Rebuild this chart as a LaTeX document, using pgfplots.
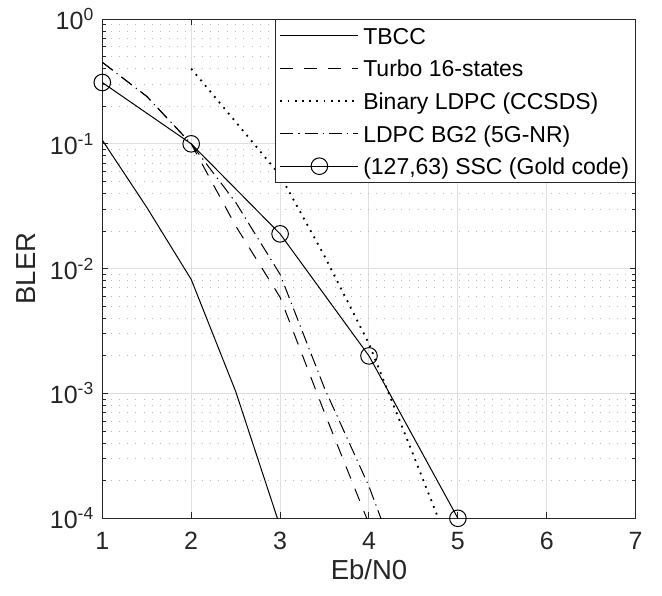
\documentclass[border=0pt]{standalone}
\usepackage{pgfplots}
\pgfplotsset{compat=1.18}
\usepackage{fontspec}
\setmainfont{Liberation Sans}
\definecolor{axgray}{RGB}{38,38,38}
\definecolor{gridmaj}{RGB}{223,223,223}
\definecolor{gridmin}{RGB}{185,185,185}
% strut that fixes the height of each legend row
\newcommand{\ls}{\rule[-5.8pt]{0pt}{28.6pt}}

\begin{document}
\begin{tikzpicture}
\begin{axis}[
    scale only axis,
    width=533.4pt, height=499.3pt,
    xmin=1, xmax=7,
    ymode=log, ymin=1e-4, ymax=1,
    xtick={1,2,3,4,5,6,7},
    xticklabels={1,2,3,4,5,6,7},
    ytick={1e-4,1e-3,1e-2,1e-1,1},
    yticklabels={10\textsuperscript{-4},10\textsuperscript{-3},10\textsuperscript{-2},10\textsuperscript{-1},10\textsuperscript{0}},
    minor ytick={2e-4,3e-4,4e-4,5e-4,6e-4,7e-4,8e-4,9e-4,
                 2e-3,3e-3,4e-3,5e-3,6e-3,7e-3,8e-3,9e-3,
                 2e-2,3e-2,4e-2,5e-2,6e-2,7e-2,8e-2,9e-2,
                 0.2,0.3,0.4,0.5,0.6,0.7,0.8,0.9},
    tick align=inside,
    major tick length=6pt, minor tick length=4pt,
    xmajorgrids, ymajorgrids, yminorgrids,
    major grid style={gridmaj, line width=1pt},
    minor grid style={gridmin, line width=1pt, dash pattern=on 1pt off 7.3pt},
    axis line style={axgray, line width=1pt},
    tick style={axgray, line width=1pt},
    tick label style={font=\fontsize{25}{30}\selectfont, color=axgray},
    xticklabel style={yshift=-10pt},
    yticklabel style={xshift=-5pt},
    label style={font=\fontsize{27.5}{33}\selectfont, color=axgray},
    xlabel={Eb/N0}, ylabel={BLER},
    xlabel style={at={(axis description cs:0.5,0)}, anchor=north, yshift=-38pt},
    ylabel style={at={(axis description cs:-0.143,0.5)}, anchor=center},
    legend cell align=left,
    legend image code/.code={\draw[mark repeat=2,mark phase=2,#1] plot coordinates {(0pt,0pt) (39pt,0pt) (78pt,0pt)};},
    legend style={at={(1,1)}, anchor=north east, draw=axgray, line width=1pt, fill=white,
        font=\fontsize{23}{28}\selectfont, inner xsep=4pt, inner ysep=0pt, row sep=0pt,
        nodes={inner sep=2pt, text depth=5.8pt},
        /tikz/every odd column/.append style={column sep=2pt}},
]
% TBCC
\addplot[black, line width=1pt] coordinates {
    (1,0.107) (1.5,0.031) (2,0.0082) (2.5,0.00104) (3,0.000086)};
\addlegendentry{\ls TBCC}
% Turbo 16-states
\addplot[black, line width=1pt, dash pattern=on 13pt off 11pt] coordinates {
    (1,0.45) (1.5,0.24) (2,0.1) (2.5,0.022) (3,0.0059) (3.5,0.0007) (4,0.00009)};
\addlegendentry{\ls Turbo 16-states}
% Binary LDPC (CCSDS)
\addplot[black, line width=1.8pt, dash pattern=on 1.8pt off 5.4pt] coordinates {
    (2,0.4) (2.5,0.15) (3,0.056) (3.5,0.0126) (4,0.0025) (4.5,0.00032) (5,0.00004)};
\addlegendentry{\ls Binary LDPC (CCSDS)}
% LDPC BG2 (5G-NR)
\addplot[black, line width=1pt, dash pattern=on 13pt off 5pt on 1.3pt off 5pt] coordinates {
    (1,0.45) (1.5,0.24) (2,0.1) (2.5,0.034) (3,0.009) (3.5,0.0011) (4,0.00018) (4.5,0.00002)};
\addlegendentry{\ls LDPC BG2 (5G-NR)}
% (127,63) SSC
\addplot[black, line width=1pt, mark=o, mark size=8.3pt, mark options={solid}] coordinates {
    (1,0.31) (2,0.1) (3,0.019) (4,0.002) (5,0.0001)};
\addlegendentry{\ls (127,63) SSC (Gold code)}
\coordinate (sw) at (rel axis cs:0,0);
\end{axis}
\path (sw) ++(-102.3pt,-76.7pt) rectangle ++(662pt,595pt);
\end{tikzpicture}
\end{document}
